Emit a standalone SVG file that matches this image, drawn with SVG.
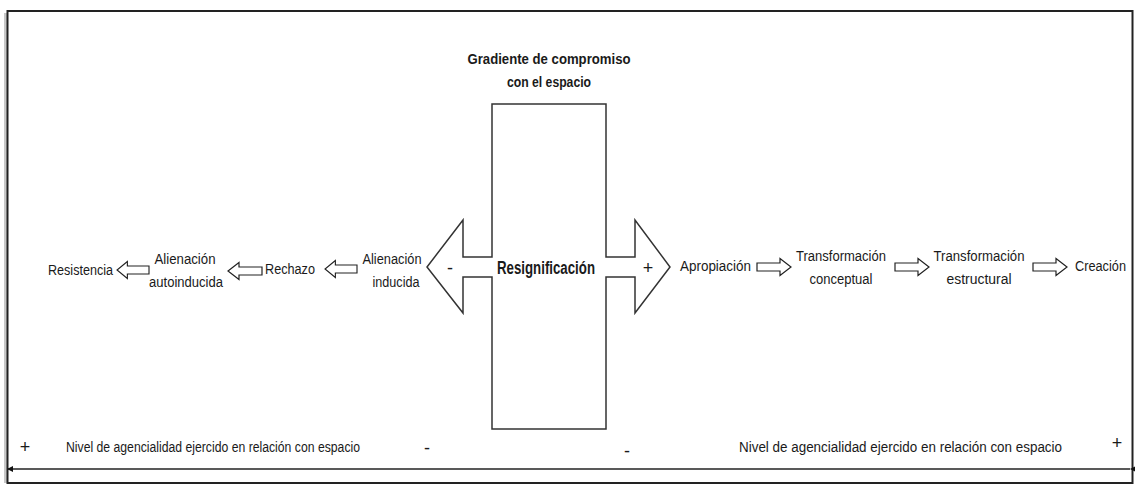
<svg xmlns="http://www.w3.org/2000/svg" width="1135" height="485" viewBox="0 0 1135 485">
<style>
  text { font-family: "Liberation Sans", Arial, sans-serif; font-size: 14px; fill: #1a1a1a; }
  .b { font-weight: bold; }
  .big { font-size: 18px; font-weight: bold; }
  .sign { font-size: 18px; }
  .outline { fill: #fff; stroke: #333; stroke-width: 1.5; }
  .barrow { fill: #fff; stroke: #222; stroke-width: 1.2; }
</style>
<defs>
  <path id="ba" d="M0,-4 H23 V-8.5 L34,0 L23,8.5 V4 H0 Z"/>
  <marker id="endR" markerWidth="8" markerHeight="8" refX="6" refY="4" orient="auto" markerUnits="userSpaceOnUse">
    <path d="M0,1 L6,4 L0,7 Z" fill="#111"/>
  </marker>
</defs>
<rect width="1135" height="485" fill="#fff"/>
<!-- frame with shadow -->
<rect x="4" y="13" width="4" height="470" fill="#c8c8c8"/>
<rect x="7.5" y="11" width="1125" height="472" fill="none" stroke="#222" stroke-width="2"/>

<g id="titulo">
  <text class="b" x="549" y="64" text-anchor="middle" textLength="163" lengthAdjust="spacingAndGlyphs">Gradiente de compromiso</text>
  <text class="b" x="549" y="87" text-anchor="middle" textLength="84" lengthAdjust="spacingAndGlyphs">con el espacio</text>
</g>

<g id="resignificacion">
  <path class="outline" d="M492,104 H606 V257 H635 V220 L670,267 L635,313 V277 H606 V429 H492 V277 H463 V313 L427,267 L463,220 V257 H492 Z"/>
  <text class="big" x="546" y="274" text-anchor="middle" textLength="98" lengthAdjust="spacingAndGlyphs">Resignificación</text>
  <text class="sign" x="450" y="274" text-anchor="middle">-</text>
  <text class="sign" x="648" y="274" text-anchor="middle">+</text>
</g>

<g id="resistencia"><text x="48" y="275" textLength="65" lengthAdjust="spacingAndGlyphs">Resistencia</text></g>
<g id="alienacion-autoinducida">
  <text x="185" y="264" text-anchor="middle" textLength="61" lengthAdjust="spacingAndGlyphs">Alienación</text>
  <text x="186" y="287" text-anchor="middle" textLength="74" lengthAdjust="spacingAndGlyphs">autoinducida</text>
</g>
<g id="rechazo"><text x="265" y="274" textLength="50" lengthAdjust="spacingAndGlyphs">Rechazo</text></g>
<g id="alienacion-inducida">
  <text x="392" y="264" text-anchor="middle" textLength="59" lengthAdjust="spacingAndGlyphs">Alienación</text>
  <text x="396" y="287" text-anchor="middle" textLength="47" lengthAdjust="spacingAndGlyphs">inducida</text>
</g>
<g id="apropiacion"><text x="680" y="271" textLength="71" lengthAdjust="spacingAndGlyphs">Apropiación</text></g>
<g id="transformacion-conceptual">
  <text x="841" y="261" text-anchor="middle" textLength="90" lengthAdjust="spacingAndGlyphs">Transformación</text>
  <text x="841" y="284" text-anchor="middle" textLength="63" lengthAdjust="spacingAndGlyphs">conceptual</text>
</g>
<g id="transformacion-estructural">
  <text x="979" y="261" text-anchor="middle" textLength="91" lengthAdjust="spacingAndGlyphs">Transformación</text>
  <text x="979" y="284" text-anchor="middle" textLength="65" lengthAdjust="spacingAndGlyphs">estructural</text>
</g>
<g id="creacion"><text x="1075" y="271" textLength="51" lengthAdjust="spacingAndGlyphs">Creación</text></g>

<g id="connectors">
  <use href="#ba" class="barrow" transform="translate(149,270) scale(-1,1) scale(0.94,1)"/>
  <use href="#ba" class="barrow" transform="translate(262,271) scale(-1,1)"/>
  <use href="#ba" class="barrow" transform="translate(357,269) scale(-1,1) scale(0.94,1)"/>
  <use href="#ba" class="barrow" transform="translate(757,267)"/>
  <use href="#ba" class="barrow" transform="translate(895,267)"/>
  <use href="#ba" class="barrow" transform="translate(1033,267)"/>
  <line x1="1130" y1="469" x2="7" y2="469" stroke="#222" stroke-width="1.5" marker-end="url(#endR)" marker-start="url(#endR)"/>
</g>

<g id="eje">
  <text class="sign" x="25" y="453" text-anchor="middle">+</text>
  <text x="66" y="452" textLength="294" lengthAdjust="spacingAndGlyphs">Nivel de agencialidad ejercido en relación con espacio</text>
  <text class="sign" x="427" y="454" text-anchor="middle">-</text>
  <text class="sign" x="627" y="457" text-anchor="middle">-</text>
  <text x="739" y="452" textLength="323" lengthAdjust="spacingAndGlyphs">Nivel de agencialidad ejercido en relación con espacio</text>
  <text class="sign" x="1117" y="449" text-anchor="middle">+</text>
</g>
</svg>
